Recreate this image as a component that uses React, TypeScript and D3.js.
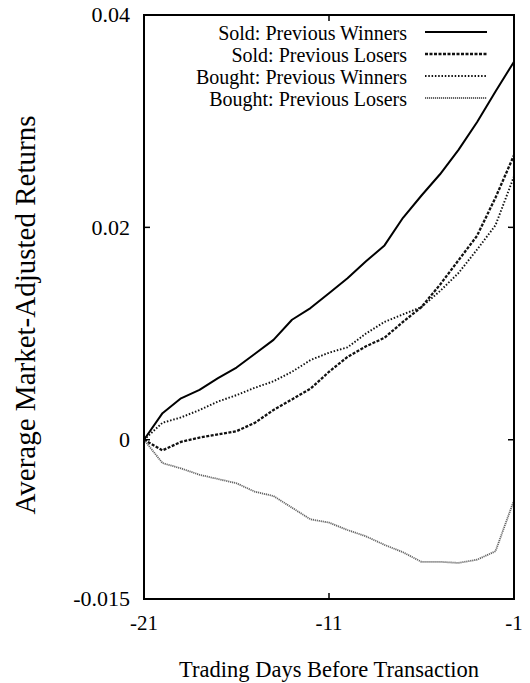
import { useEffect, useRef } from "react"
import * as d3 from "d3"

const days = [-21, -20, -19, -18, -17, -16, -15, -14, -13, -12, -11, -10, -9, -8, -7, -6, -5, -4, -3, -2, -1]

const soldWinners = [0, 0.0025, 0.0039, 0.0047, 0.0058, 0.0068, 0.0081, 0.0094, 0.0113, 0.0124, 0.0138, 0.0152, 0.0168, 0.0183, 0.0209, 0.023, 0.025, 0.0273, 0.0299, 0.0328, 0.0356]
const soldLosers = [0, -0.001, -0.0002, 0.0002, 0.0005, 0.0008, 0.0016, 0.0028, 0.0038, 0.0048, 0.0064, 0.0078, 0.0088, 0.0096, 0.0111, 0.0125, 0.0146, 0.0169, 0.0192, 0.0228, 0.0268]
const boughtWinners = [0, 0.0016, 0.0021, 0.0028, 0.0036, 0.0042, 0.0049, 0.0055, 0.0064, 0.0075, 0.0082, 0.0087, 0.01, 0.0111, 0.0118, 0.0125, 0.014, 0.0157, 0.0179, 0.0202, 0.0248]
const boughtLosers = [0, -0.0022, -0.0027, -0.0033, -0.0037, -0.0041, -0.0049, -0.0053, -0.0064, -0.0075, -0.0078, -0.0085, -0.0091, -0.0099, -0.0106, -0.0115, -0.0115, -0.0116, -0.0113, -0.0105, -0.0057]

const seriesNames = ["Sold: Previous Winners", "Sold: Previous Losers", "Bought: Previous Winners", "Bought: Previous Losers"]

const xTicks = [-21, -11, -1]
const yTicks = [0.04, 0.02, 0, -0.015]
const yTickLabels = ["0.04", "0.02", "0", "-0.015"]

export default function App() {
  const svgRef = useRef<SVGSVGElement>(null)

  useEffect(() => {
    if (!svgRef.current) return
    const svg = d3.select(svgRef.current)
    svg.selectAll("*").remove()

    const left = 144
    const right = 514
    const top = 15
    const bottom = 599
    const font = "'Liberation Serif', 'Times New Roman', serif"

    const x = d3.scaleLinear().domain([-21, -1]).range([left, right])
    const y = d3.scaleLinear().domain([-0.015, 0.04]).range([bottom, top])

    // line styles for the 4 series
    const styles = [
      { color: "#000", width: 2, dash: null },
      { color: "#111", width: 2.3, dash: "3,1.5" },
      { color: "#111", width: 1.9, dash: "1.5,1.8" },
      { color: "#666", width: 1.8, dash: "1.2,0.8" },
    ]
    const series = [soldWinners, soldLosers, boughtWinners, boughtLosers]

    const line = d3
      .line<number>()
      .x((_, i) => x(days[i]))
      .y((d) => y(d))

    series.forEach((s, i) => {
      svg
        .append("path")
        .attr("d", line(s) as string)
        .attr("fill", "none")
        .attr("stroke", styles[i].color)
        .attr("stroke-width", styles[i].width)
        .attr("stroke-dasharray", styles[i].dash)
        .attr("stroke-linejoin", "round")
    })

    // frame
    svg
      .append("rect")
      .attr("x", left)
      .attr("y", top)
      .attr("width", right - left)
      .attr("height", bottom - top)
      .attr("fill", "none")
      .attr("stroke", "#000")
      .attr("stroke-width", 2)

    // inward ticks on all sides
    xTicks.forEach((t) => {
      svg.append("line").attr("x1", x(t)).attr("x2", x(t)).attr("y1", bottom).attr("y2", bottom - 6).attr("stroke", "#000").attr("stroke-width", 1.5)
      svg.append("line").attr("x1", x(t)).attr("x2", x(t)).attr("y1", top).attr("y2", top + 6).attr("stroke", "#000").attr("stroke-width", 1.5)
      svg
        .append("text")
        .attr("x", x(t))
        .attr("y", 630)
        .attr("text-anchor", "middle")
        .style("font-family", font)
        .style("font-size", "21px")
        .text(String(t))
    })

    yTicks.forEach((t, i) => {
      svg.append("line").attr("x1", left).attr("x2", left + 6).attr("y1", y(t)).attr("y2", y(t)).attr("stroke", "#000").attr("stroke-width", 1.5)
      svg.append("line").attr("x1", right).attr("x2", right - 6).attr("y1", y(t)).attr("y2", y(t)).attr("stroke", "#000").attr("stroke-width", 1.5)
      svg
        .append("text")
        .attr("x", 130)
        .attr("y", y(t))
        .attr("dy", "0.34em")
        .attr("text-anchor", "end")
        .style("font-family", font)
        .style("font-size", "22px")
        .text(yTickLabels[i])
    })

    // axis titles
    svg
      .append("text")
      .attr("x", (left + right) / 2)
      .attr("y", 677)
      .attr("text-anchor", "middle")
      .style("font-family", font)
      .style("font-size", "22.5px")
      .text("Trading Days Before Transaction")

    svg
      .append("text")
      .attr("transform", `translate(35, 315) rotate(-90)`)
      .attr("text-anchor", "middle")
      .style("font-family", font)
      .style("font-size", "29px")
      .text("Average Market-Adjusted Returns")

    // legend
    const legend = svg.append("g")
    seriesNames.forEach((name, i) => {
      const base = 40 + i * 22
      legend
        .append("text")
        .attr("x", 407)
        .attr("y", base)
        .attr("text-anchor", "end")
        .style("font-family", font)
        .style("font-size", "20px")
        .text(name)
      legend
        .append("line")
        .attr("x1", 425)
        .attr("x2", 487)
        .attr("y1", base - 8)
        .attr("y2", base - 8)
        .attr("stroke", styles[i].color)
        .attr("stroke-width", styles[i].width)
        .attr("stroke-dasharray", styles[i].dash)
    })
  }, [])

  return (
    <svg
      ref={svgRef}
      width={530}
      height={683}
      style={{ position: "absolute", left: 0, top: 0, background: "#fff" }}
    ></svg>
  )
}
